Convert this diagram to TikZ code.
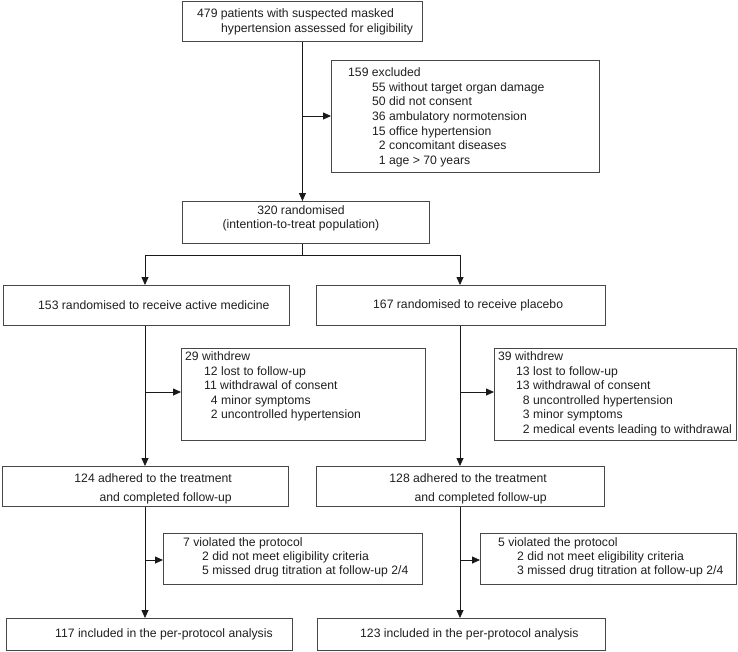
\documentclass[tikz,border=0pt]{standalone}
\usepackage{fontspec}
\setmainfont{Liberation Sans}
\usetikzlibrary{arrows.meta,calc}
\begin{document}
\begin{tikzpicture}[x=1pt,y=-1pt,
  box/.style={draw=black!72, line width=0.9pt, anchor=north west, inner sep=0pt},
  txt/.style={anchor=north west, align=left, inner sep=0pt, text=black!88,
    font=\fontsize{12.2}{14.6}\selectfont},
  arr/.style={draw=black!90, -{Triangle[length=8pt,width=7pt]}, line width=0.8pt},
  ln/.style={draw=black!90, line width=0.8pt}]
\useasboundingbox (0,0) rectangle (738,651);

% boxes
\node[box, minimum width=240pt, minimum height=40pt] (top) at (182,1) {};
\node[box, minimum width=268pt, minimum height=112pt] (excl) at (331,60) {};
\node[box, minimum width=247pt, minimum height=42pt] (rand) at (182,201) {};
\node[box, minimum width=286pt, minimum height=40pt] (g1) at (3,285) {};
\node[box, minimum width=289pt, minimum height=40pt] (g2) at (316,285) {};
\node[box, minimum width=244pt, minimum height=92pt] (w1) at (181,348) {};
\node[box, minimum width=242pt, minimum height=92pt] (w2) at (494,348) {};
\node[box, minimum width=286pt, minimum height=40pt] (a1) at (2,466) {};
\node[box, minimum width=288pt, minimum height=40pt] (a2) at (316,466) {};
\node[box, minimum width=259pt, minimum height=51pt] (v1) at (163,533) {};
\node[box, minimum width=256pt, minimum height=51pt] (v2) at (480,533) {};
\node[box, minimum width=286pt, minimum height=32pt] (p1) at (6,618) {};
\node[box, minimum width=288pt, minimum height=32pt] (p2) at (317,618) {};

% texts
\node[txt, font=\fontsize{12.2}{15}\selectfont] (ttop) at (197,8.3)
  {479 patients with suspected masked\\\hspace*{24pt}hypertension assessed for eligibility};
\node[txt, font=\fontsize{12.2}{14.67}\selectfont] (texcl) at (348,67.3)
  {159 excluded\\
   \hspace*{24pt}55 without target organ damage\\
   \hspace*{24pt}50 did not consent\\
   \hspace*{24pt}36 ambulatory normotension\\
   \hspace*{24pt}15 office hypertension\\
   \hspace*{24pt}\phantom{1}2 concomitant diseases\\
   \hspace*{24pt}\phantom{1}1 age > 70 years};
\node[txt, anchor=north, align=center, font=\fontsize{12.2}{14.2}\selectfont] (trand) at (301,205.3)
  {320 randomised\\(intention-to-treat population)};
\node[txt, anchor=west] (tg1) at (38,305) {153 randomised to receive active medicine};
\node[txt, anchor=west] (tg2) at (373,305) {167 randomised to receive placebo};
\node[txt, font=\fontsize{12.2}{14.5}\selectfont] (tw1) at (185,351.5)
  {29 withdrew\\
   \hspace*{19pt}12 lost to follow-up\\
   \hspace*{19pt}11 withdrawal of consent\\
   \hspace*{19pt}\phantom{1}4 minor symptoms\\
   \hspace*{19pt}\phantom{1}2 uncontrolled hypertension};
\node[txt, font=\fontsize{12.2}{14.5}\selectfont] (tw2) at (498,351.5)
  {39 withdrew\\
   \hspace*{18pt}13 lost to follow-up\\
   \hspace*{18pt}13 withdrawal of consent\\
   \hspace*{18pt}\phantom{1}8 uncontrolled hypertension\\
   \hspace*{18pt}\phantom{1}3 minor symptoms\\
   \hspace*{18pt}\phantom{1}2 medical events leading to withdrawal};
\node[txt, anchor=north east, align=right, font=\fontsize{12.2}{19}\selectfont] (ta1) at (232,473.3)
  {124 adhered to the treatment\\and completed follow-up};
\node[txt, anchor=north east, align=right, font=\fontsize{12.2}{19}\selectfont] (ta2) at (547,473.3)
  {128 adhered to the treatment\\and completed follow-up};
\node[txt, font=\fontsize{12.2}{14}\selectfont] (tv1) at (183,537.3)
  {7 violated the protocol\\
   \hspace*{19pt}2 did not meet eligibility criteria\\
   \hspace*{19pt}5 missed drug titration at follow-up 2/4};
\node[txt, font=\fontsize{12.2}{14}\selectfont] (tv2) at (498,537.3)
  {5 violated the protocol\\
   \hspace*{19pt}2 did not meet eligibility criteria\\
   \hspace*{19pt}3 missed drug titration at follow-up 2/4};
\node[txt, anchor=west] (tp1) at (55,634) {117 included in the per-protocol analysis};
\node[txt, anchor=west] (tp2) at (360,634) {123 included in the per-protocol analysis};

% connector points
\coordinate (j0) at (302,116);
\coordinate (br) at (302,255);
\coordinate (bl) at (145,255);
\coordinate (brr) at (460,255);
\coordinate (l1) at (145,392);
\coordinate (r1) at (460,392);
\coordinate (l2) at (145,560);
\coordinate (r2) at (460,560);

% connectors
\draw[arr] (top.south) -- (top.south |- rand.north);
\draw[arr] (j0) -- (j0 -| excl.west);
\draw[ln] (rand.south -| br) -- (br);
\draw[ln] (bl) -- (brr);
\draw[arr] (bl) -- (bl |- g1.north);
\draw[arr] (brr) -- (brr |- g2.north);
\draw[arr] (g1.south -| l1) -- (l1 |- a1.north);
\draw[arr] (l1) -- (l1 -| w1.west);
\draw[arr] (g2.south -| r1) -- (r1 |- a2.north);
\draw[arr] (r1) -- (r1 -| w2.west);
\draw[arr] (a1.south -| l2) -- (l2 |- p1.north);
\draw[arr] (l2) -- (l2 -| v1.west);
\draw[arr] (a2.south -| r2) -- (r2 |- p2.north);
\draw[arr] (r2) -- (r2 -| v2.west);
\end{tikzpicture}
\end{document}
